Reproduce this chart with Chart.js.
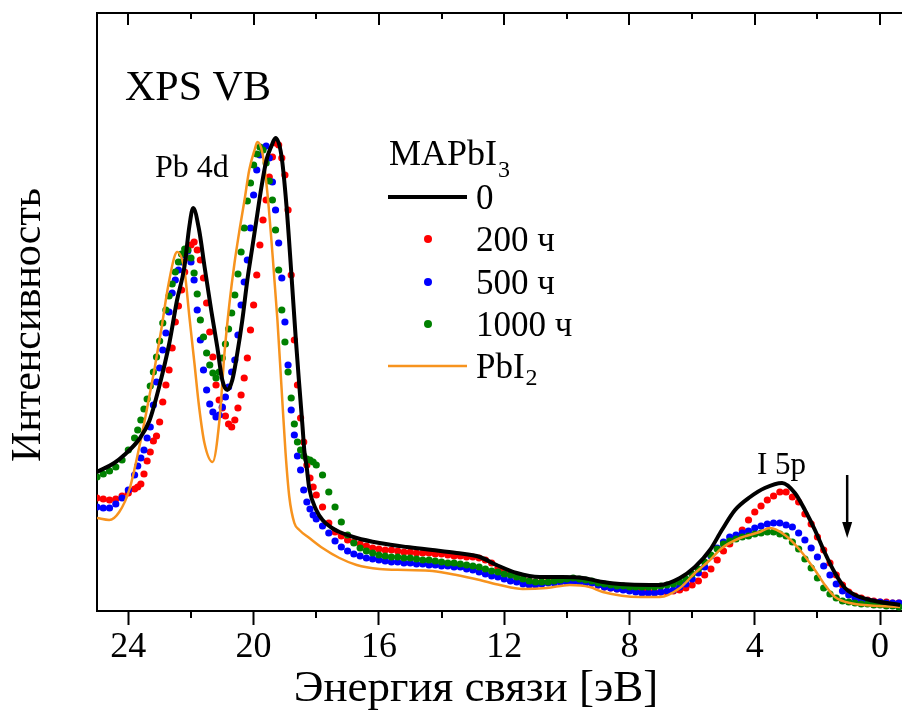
<!DOCTYPE html>
<html><head><meta charset="utf-8">
<script src="https://cdn.jsdelivr.net/npm/chart.js@4.4.1/dist/chart.umd.min.js"></script>
<style>html,body{margin:0;padding:0;background:#fff;overflow:hidden;}canvas{display:block;}</style>
</head><body>
<canvas id="c" width="902" height="713"></canvas>
<script>
// ---------- DATA ----------
const energyDots = [
 25.0,24.8,24.6,24.4,24.2,24.0,23.8,
 23.7,23.6,23.5,23.4,23.3,23.2,23.1,23.0,22.9,22.8,
 22.7,22.6,22.5,22.4,22.3,22.2,22.1,22.0,21.9,21.8,
 21.7,21.6,21.5,21.4,21.3,21.2,21.1,21.0,20.9,20.8,
 20.7,20.6,20.5,20.4,20.3,20.2,20.1,20.0,19.9,19.8,
 19.7,19.6,19.5,19.4,19.3,19.2,19.1,19.0,18.9,18.8,
 18.7,18.6,18.5,18.4,18.3,18.2,18.1,18.0,
 17.8,17.6,17.4,17.2,17.0,16.8,16.6,16.4,16.2,16.0,
 15.8,15.6,15.4,15.2,15.0,14.8,14.6,14.4,14.2,14.0,
 13.8,13.6,13.4,13.2,13.0,12.8,12.6,12.4,12.2,12.0,
 11.8,11.6,11.4,11.2,11.0,10.8,10.6,10.4,10.2,10.0,
 9.8,9.6,9.4,9.2,9.0,8.8,8.6,8.4,8.2,8.0,
 7.8,7.6,7.4,7.2,7.0,6.8,6.6,6.4,6.2,6.0,
 5.8,5.6,5.4,5.2,5.0,4.8,4.6,4.4,4.2,4.0,
 3.8,3.6,3.4,3.2,3.0,2.8,2.6,2.4,2.2,2.0,
 1.8,1.6,1.4,1.2,1.0,0.8,0.6,0.4,0.2,0.0,
 -0.2,-0.4,-0.6
];
const hours200 = [
 113,112,111,112,115,118,122,
 124,127,137,150,159,170,175,189,209,226,
 241,263,289,305,321,339,353,366,369,361,
 351,333,308,279,254,226,211,203,195,187,
 184,191,203,216,233,253,281,306,336,366,
 391,411,434,454,468,466,453,436,401,336,
 271,226,193,169,146,133,124,116,
 104,88,79,75,71,69,67,65,63,62,
 61,61,60,59,59,58,58,58,57,57,
 56,55,55,54,54,53,51,48,43,40,
 37,34,32,30,29,29,29,30,30,31,
 31,30,29,28,26,24,23,22,22,21,
 21,20,20,19,19,19,20,21,23,26,
 30,36,42,51,60,67,74,81,91,99,
 105,111,115,119,119,114,109,97,87,74,
 61,48,36,26,19,15,13,11,10,9,
 9,8,8
];
const hours500 = [
 104,103,103,107,113,121,136,
 145,153,161,173,184,206,229,243,261,278,
 299,318,331,341,349,356,360,349,331,301,
 271,241,221,207,199,194,196,204,214,224,
 239,251,276,306,329,351,383,416,441,456,
 463,465,453,429,401,368,333,289,246,201,
 176,155,141,121,109,102,96,92,
 85,78,70,64,60,57,55,53,52,51,
 50,49,49,48,48,47,47,46,46,45,
 45,44,44,42,41,39,37,35,34,32,
 30,29,27,26,26,27,28,28,29,29,
 29,29,28,28,26,24,23,22,21,20,
 19,18,18,18,19,20,21,24,27,32,
 38,44,55,63,69,74,76,78,80,83,
 85,87,88,88,86,84,78,71,63,54,
 45,36,27,20,16,13,11,10,9,9,
 8,8,8
];
const hours1000 = [
 134,137,140,144,151,161,173,
 181,191,202,212,225,239,254,270,288,301,
 315,327,339,349,357,362,361,353,338,317,
 291,274,258,246,238,233,239,253,267,282,
 298,316,337,359,383,410,428,446,457,464,
 461,448,430,411,381,341,301,269,239,213,
 187,169,161,155,152,151,149,146,
 136,119,104,89,76,68,63,60,58,56,
 55,54,54,53,53,52,51,51,50,49,
 48,48,47,46,45,44,42,40,39,37,
 36,34,32,30,29,29,29,30,31,32,
 33,32,31,30,28,27,26,25,25,24,
 24,24,24,24,25,26,27,29,32,37,
 42,49,56,62,67,70,72,74,75,77,
 78,79,79,77,75,69,62,52,43,33,
 23,17,13,10,9,8,7,7,6,6,
 5,5,4
];
const energyFresh = [25.0,24.45,24.13,23.65,23.33,23.01,22.69,22.45,22.21,22.05,21.93,21.74,21.57,21.35,21.16,21.0,20.84,20.68,20.52,20.36,20.2,20.04,19.91,19.75,19.59,19.43,19.3,19.11,18.95,18.79,18.66,18.54,18.44,18.38,18.31,18.22,18.0,17.8,17.5,17.26,16.71,15.98,15.12,14.29,13.52,12.78,12.24,11.60,10.87,10.13,9.49,8.85,8.30,7.35,7.03,6.39,5.91,5.43,5.05,4.63,4.15,3.68,3.13,2.72,2.40,2.08,1.76,1.44,1.12,0.80,0.32,-0.64];
const hours0 = [139,148,156,172,190,225,268,310,344,385,403,381,345,300,264,231,221,231,258,291,331,364,391,424,451,465,473,455,405,335,275,225,185,160,145,122,101,91,83,79,73,68,64,61,58,54,46,38,34,34,33,29,27,26,26,33,44,61,81,101,114,123,128,118,101,81,58,38,23,16,11,6];
const energyPbI2 = [25.0,24.61,24.29,23.97,23.65,23.43,23.17,22.95,22.75,22.53,22.44,22.21,22.05,21.89,21.74,21.57,21.31,21.09,20.93,20.77,20.61,20.45,20.29,20.14,19.97,19.88,19.72,19.56,19.40,19.24,19.11,18.98,18.86,18.70,18.54,18.22,17.80,17.26,16.71,15.98,15.12,14.29,13.52,12.78,12.14,11.41,10.64,9.91,9.27,8.85,7.67,7.03,6.39,5.91,5.43,5.05,4.47,3.84,3.52,3.04,2.56,2.08,1.76,1.44,0.96,-0.64];
const pbi2 = [93,91,99,121,164,198,241,281,321,354,359,341,294,248,204,168,149,191,258,308,348,381,411,441,461,469,458,418,358,291,224,158,114,88,81,73,63,53,46,42,41,40,36,31,26,22,23,26,24,19,14,14,23,38,51,63,73,79,83,76,61,41,26,14,8,4];

const xTickStep = 4;
const xMin = -0.7, xMax = 25;
const yMin = 0, yMax = 598;
const legendTitle = 'MAPbI';
const legendTitleSub = '3';
const seriesLabels = ['0', '200 ч', '500 ч', '1000 ч', 'PbI'];
const xTitle = 'Энергия связи [эВ]';
const yTitle = 'Интенсивность';
const arrowE = 1.05, arrowTop = 136, arrowTip = 73;

// ---------- CHART ----------
const SERIF = '"Liberation Serif", "Times New Roman", serif';
const pts = (xs, ys) => xs.map((e, i) => ({x: e, y: ys[i]}));
const C = {black:'#000000', red:'#ff0000', blue:'#0000ff', green:'#008000', orange:'#f7931e'};

function seg(ctx, x1, y1, x2, y2) { ctx.beginPath(); ctx.moveTo(x1, y1); ctx.lineTo(x2, y2); ctx.stroke(); }

const decor = {
  id: 'decor',
  afterDraw(chart) {
    const {ctx, chartArea: a, scales: {x, y}} = chart;
    ctx.save();
    ctx.strokeStyle = '#000'; ctx.lineWidth = 2; ctx.lineCap = 'butt';
    seg(ctx, a.left - 1, a.top, chart.width, a.top);
    x.ticks.forEach(t => {
      const p = Math.round(x.getPixelForValue(t.value));
      seg(ctx, p, a.top, p, a.top + 12);
      const mv = t.value + xTickStep / 2;
      if (mv <= x.max) {
        const mp = Math.round(x.getPixelForValue(mv));
        seg(ctx, mp, a.top, mp, a.top + 6);
        seg(ctx, mp, a.bottom, mp, a.bottom + 7);
      }
    });
    ctx.fillStyle = '#000';
    ctx.font = '45px ' + SERIF;
    ctx.textAlign = 'center'; ctx.textBaseline = 'middle';
    ctx.fillText(xTitle, 476, 689);
    ctx.font = '42px ' + SERIF;
    ctx.save(); ctx.translate(29, 325); ctx.rotate(-Math.PI / 2);
    ctx.fillText(yTitle, 0, 0); ctx.restore();
    ctx.textAlign = 'left'; ctx.textBaseline = 'alphabetic';
    ctx.font = '42px ' + SERIF; ctx.fillText('XPS VB', a.left + 28, 100);
    ctx.font = '32px ' + SERIF; ctx.fillText('Pb 4d', a.left + 58, 177);
    ctx.font = '31px ' + SERIF; ctx.fillText('I 5p', 757, 474);
    const ax = x.getPixelForValue(arrowE), ay1 = y.getPixelForValue(arrowTop), ay2 = y.getPixelForValue(arrowTip);
    ctx.lineWidth = 2.5; seg(ctx, ax, ay1, ax, ay2 - 10);
    ctx.beginPath(); ctx.moveTo(ax - 5, ay2 - 16); ctx.lineTo(ax + 5, ay2 - 16); ctx.lineTo(ax, ay2); ctx.closePath(); ctx.fill();
    const ds = chart.data.datasets;
    ctx.font = '36px ' + SERIF;
    ctx.fillText(legendTitle, 389, 165);
    const tw = ctx.measureText(legendTitle).width;
    ctx.font = '24px ' + SERIF; ctx.fillText(legendTitleSub, 389 + tw + 1, 177);
    const rows = [197, 239, 282, 324, 366];
    rows.forEach((ry, i) => {
      const d = ds[i];
      if (d.showLine) {
        ctx.strokeStyle = d.borderColor; ctx.lineWidth = d.borderWidth;
        seg(ctx, 388, ry, 467, ry);
      } else {
        ctx.fillStyle = d.backgroundColor;
        ctx.beginPath(); ctx.arc(428, ry, 4, 0, Math.PI * 2); ctx.fill();
      }
      ctx.fillStyle = '#000';
      ctx.font = '35px ' + SERIF;
      ctx.fillText(seriesLabels[i], 476, ry + 12);
      if (i === 4) {
        const w = ctx.measureText(seriesLabels[i]).width;
        ctx.font = '24px ' + SERIF; ctx.fillText('2', 476 + w + 1, ry + 19);
      }
    });
    ctx.restore();
  }
};

const dotDs = (label, data, color, order) => ({
  label, data: pts(energyDots, data), showLine: false,
  backgroundColor: color, borderColor: color, pointRadius: 3.6, pointBorderWidth: 0, pointHoverRadius: 3.6, order
});

new Chart(document.getElementById('c'), {
  type: 'scatter',
  data: {
    datasets: [
      {label: seriesLabels[0], data: pts(energyFresh, hours0), showLine: true, borderColor: C.black, backgroundColor: C.black,
       borderWidth: 4, pointRadius: 0, cubicInterpolationMode: 'monotone', order: 0},
      dotDs(seriesLabels[1], hours200, C.red, 4),
      dotDs(seriesLabels[2], hours500, C.blue, 3),
      dotDs(seriesLabels[3], hours1000, C.green, 2),
      {label: 'PbI2', data: pts(energyPbI2, pbi2), showLine: true, borderColor: C.orange, backgroundColor: C.orange,
       borderWidth: 2.5, pointRadius: 0, cubicInterpolationMode: 'monotone', order: 1}
    ]
  },
  options: {
    responsive: false, animation: false, devicePixelRatio: 1,
    layout: {autoPadding: false, padding: {top: 13, right: 0, bottom: 0, left: 0}},
    plugins: {legend: {display: false}, tooltip: {enabled: false}},
    scales: {
      x: {
        type: 'linear', reverse: true, min: xMin, max: xMax,
        afterFit: s => { s.height = 102; s.paddingLeft = 0; s.paddingRight = 0; },
        ticks: {stepSize: xTickStep, includeBounds: false, color: '#000', padding: 1,
                font: {family: SERIF, size: 36, lineHeight: 1.2}, maxRotation: 0},
        grid: {display: true, drawOnChartArea: false, drawTicks: true, tickLength: 14, tickWidth: 2, tickColor: '#000', color: '#000'},
        border: {display: true, color: '#000', width: 2}
      },
      y: {
        type: 'linear', min: yMin, max: yMax,
        afterFit: s => { s.width = 97; },
        ticks: {display: false},
        grid: {display: false},
        border: {display: true, color: '#000', width: 2}
      }
    }
  },
  plugins: [decor]
});
</script>
</body></html>
